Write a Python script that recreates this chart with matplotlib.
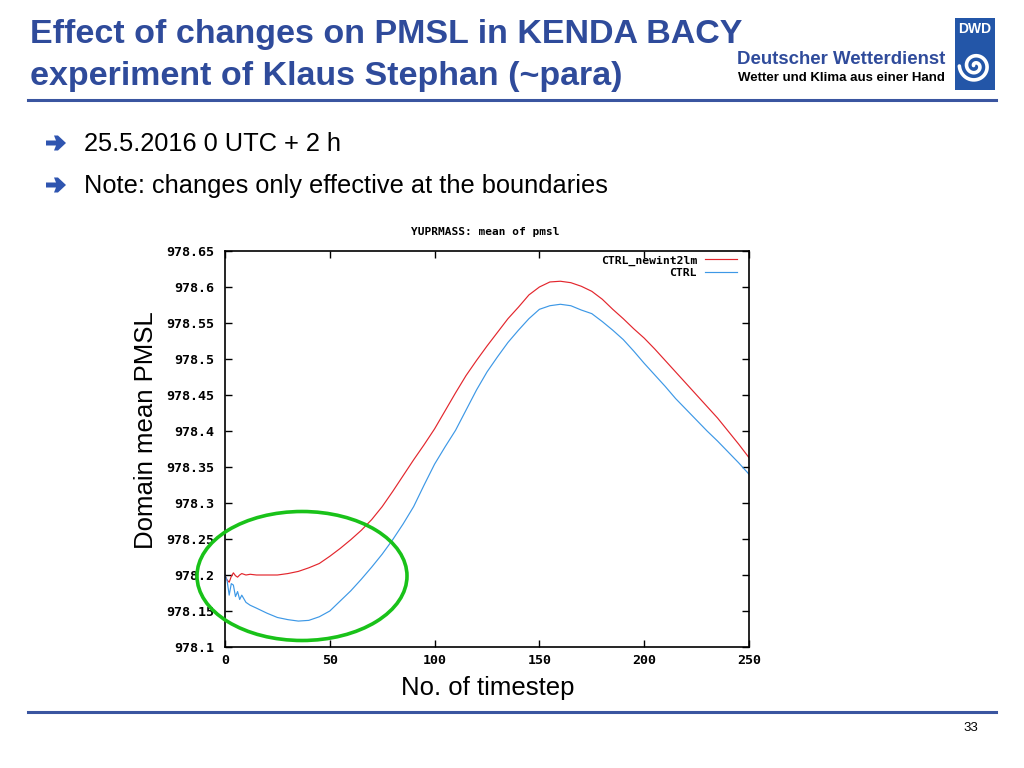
import numpy as np
import matplotlib
matplotlib.use("Agg")
import matplotlib.pyplot as plt
from matplotlib.patches import Rectangle, Ellipse, Polygon
from matplotlib.lines import Line2D
from matplotlib.ticker import FixedLocator, FixedFormatter

# ---------------- data ----------------
timestep = [0, 1, 2, 3, 4, 5, 6, 7, 8, 10, 12, 15, 20, 25, 30, 35, 40, 45, 50, 55,
            60, 65, 70, 75, 80, 85, 90, 95, 100, 105, 110, 115, 120, 125, 130, 135,
            140, 145, 150, 155, 160, 165, 170, 175, 180, 185, 190, 195, 200, 205,
            210, 215, 220, 225, 230, 235, 240, 245, 250]

pmsl_newint2lm = [978.200, 978.193, 978.190, 978.198, 978.203, 978.199, 978.197, 978.200,
                  978.202, 978.200, 978.201, 978.200, 978.200, 978.200, 978.202, 978.205,
                  978.210, 978.216, 978.226, 978.237, 978.249, 978.262, 978.277, 978.295,
                  978.316, 978.338, 978.360, 978.381, 978.403, 978.428, 978.453, 978.477,
                  978.498, 978.518, 978.537, 978.556, 978.572, 978.589, 978.600, 978.607,
                  978.608, 978.606, 978.601, 978.594, 978.583, 978.569, 978.556, 978.542,
                  978.529, 978.514, 978.498, 978.482, 978.466, 978.450, 978.434, 978.418,
                  978.400, 978.382, 978.363]

pmsl_ctrl = [978.200, 978.192, 978.172, 978.188, 978.186, 978.170, 978.177, 978.166,
             978.172, 978.162, 978.158, 978.154, 978.147, 978.141, 978.138, 978.136,
             978.137, 978.142, 978.150, 978.164, 978.178, 978.194, 978.211, 978.229,
             978.249, 978.271, 978.295, 978.325, 978.354, 978.378, 978.401, 978.429,
             978.457, 978.482, 978.503, 978.523, 978.540, 978.556, 978.569, 978.574,
             978.576, 978.574, 978.568, 978.563, 978.552, 978.540, 978.527, 978.511,
             978.494, 978.478, 978.462, 978.445, 978.430, 978.415, 978.400, 978.386,
             978.371, 978.356, 978.340]

series_labels = ["CTRL_newint2lm", "CTRL"]
x_ticks = [0, 50, 100, 150, 200, 250]
x_tick_labels = ["0", "50", "100", "150", "200", "250"]
y_ticks = [978.1, 978.15, 978.2, 978.25, 978.3, 978.35, 978.4, 978.45, 978.5, 978.55, 978.6, 978.65]
y_tick_labels = ["978.1", "978.15", "978.2", "978.25", "978.3", "978.35", "978.4",
                 "978.45", "978.5", "978.55", "978.6", "978.65"]

# ---------------- figure ----------------
W, H = 1024, 768
fig = plt.figure(figsize=(W / 100, H / 100), dpi=100)
fig.patch.set_facecolor("white")


def fx(x):
    return np.asarray(x) / W


def fy(y):
    return 1 - np.asarray(y) / H


TITLE_BLUE = "#2f4b9b"
SANS = ["Liberation Sans", "DejaVu Sans"]
MONO = ["DejaVu Sans Mono"]

# title
fig.text(fx(30), fy(35), "Effect of changes on PMSL in KENDA BACY", fontsize=24.5,
         fontweight="bold", color=TITLE_BLUE, family=SANS, va="center", ha="left")
fig.text(fx(30), fy(77), "experiment of Klaus Stephan (~para)", fontsize=24.5,
         fontweight="bold", color=TITLE_BLUE, family=SANS, va="center", ha="left")

# DWD logo area
fig.text(fx(945), fy(59), "Deutscher Wetterdienst", fontsize=13.4, fontweight="bold",
         color=TITLE_BLUE, family=SANS, ha="right", va="center")
fig.text(fx(945), fy(78), "Wetter und Klima aus einer Hand", fontsize=9.5, fontweight="bold",
         color="black", family=SANS, ha="right", va="center")
fig.add_artist(Rectangle((fx(955), fy(90)), 40 / W, 72 / H, transform=fig.transFigure,
                         facecolor="#2356a8", edgecolor="none"))
fig.text(fx(975), fy(29), "DWD", fontsize=10, fontweight="bold", color="white",
         family=SANS, ha="center", va="center")
th = np.linspace(0.3, 4.0 * np.pi, 300)
r = 1.2 + 1.15 * th
cx, cy = 975, 66
sx = cx + r * np.cos(th + np.pi)
sy = cy + r * np.sin(th + np.pi)
fig.add_artist(Line2D(fx(sx), fy(sy), transform=fig.transFigure, color="white", lw=2.6,
                      solid_capstyle="round"))

# header / footer rules
fig.add_artist(Line2D([fx(28), fx(996)], [fy(100), fy(100)], transform=fig.transFigure,
                      color="#3a55a0", lw=2.2))
fig.add_artist(Line2D([fx(28), fx(996)], [fy(712), fy(712)], transform=fig.transFigure,
                      color="#3a55a0", lw=2.2))

# bullets
for yb, txt in [(143, "25.5.2016 0 UTC + 2 h"), (185, "Note: changes only effective at the boundaries")]:
    ax_pts = [(46, yb - 2.5), (56, yb - 2.5), (54, yb - 7.5), (58, yb - 7.5), (66, yb),
              (58, yb + 7.5), (54, yb + 7.5), (56, yb + 2.5), (46, yb + 2.5)]
    fig.add_artist(Polygon([(fx(p[0]), fy(p[1])) for p in ax_pts], closed=True,
                           transform=fig.transFigure, facecolor="#2f55b0", edgecolor="none"))
    fig.text(fx(84), fy(yb + 1), txt, fontsize=18.3, color="black", family=SANS,
             ha="left", va="center")

# page number
fig.text(fx(971), fy(728), "33", fontsize=9.5, color="black", family=SANS, ha="center", va="center")

# ---------------- chart ----------------
ax = fig.add_axes([fx(225), fy(647), (749 - 225) / W, (647 - 251) / H])
ax.plot(timestep, pmsl_newint2lm, color="#e3262d", lw=0.85, label=series_labels[0])
ax.plot(timestep, pmsl_ctrl, color="#3d98e6", lw=0.85, label=series_labels[1])
ax.set_xlim(0, 250)
ax.set_ylim(978.1, 978.65)
ax.xaxis.set_major_locator(FixedLocator(x_ticks))
ax.xaxis.set_major_formatter(FixedFormatter(x_tick_labels))
ax.yaxis.set_major_locator(FixedLocator(y_ticks))
ax.yaxis.set_major_formatter(FixedFormatter(y_tick_labels))
ax.tick_params(direction="in", length=5, width=1, top=True, right=True,
               labelsize=9.6, colors="black")
ax.tick_params(axis="y", pad=8)
ax.tick_params(axis="x", pad=5)
for lab in ax.get_xticklabels() + ax.get_yticklabels():
    lab.set_family(MONO)
    lab.set_fontweight("bold")
for s in ax.spines.values():
    s.set_linewidth(1.2)
    s.set_color("black")

leg = ax.legend(loc="upper right", bbox_to_anchor=(0.977, 0.989), frameon=False,
                markerfirst=False, prop={"family": MONO, "weight": "bold", "size": 8.2},
                handlelength=2.8, handletextpad=0.7, labelspacing=0.17,
                borderaxespad=0, borderpad=0)

fig.text(fx(485), fy(232), "YUPRMASS: mean of pmsl", fontsize=8, fontweight="bold",
         family=MONO, ha="center", va="center")

fig.text(fx(146), fy(430), "Domain mean PMSL", fontsize=18.5, family=SANS, rotation=90,
         ha="center", va="center")
fig.text(fx(488), fy(688), "No. of timestep", fontsize=18.5, family=SANS,
         ha="center", va="center")

# green highlight ellipse
fig.add_artist(Ellipse((fx(302), fy(576)), 210 / W, 129 / H, transform=fig.transFigure,
                       fill=False, edgecolor="#19c219", lw=2.6))

fig.savefig("out.png", dpi=100, facecolor="white")
